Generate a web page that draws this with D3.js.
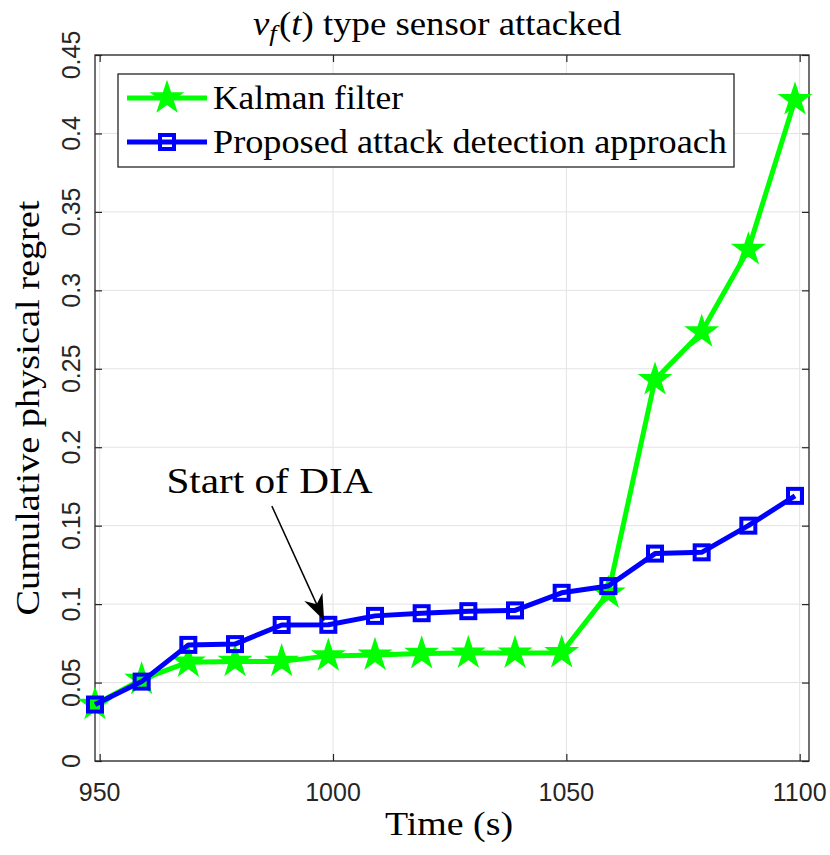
<!DOCTYPE html>
<html><head><meta charset="utf-8">
<script src="https://cdn.jsdelivr.net/npm/d3@7"></script>
<style>body{margin:0;background:#fff}</style>
</head><body><svg id="c" width="830" height="855"></svg>
<script>
// ---- data ----
const times    = [949, 959, 969, 979, 989, 999, 1009, 1019, 1029, 1039, 1049, 1059, 1069, 1079, 1089, 1099];
const kalman   = [0.036, 0.052, 0.063, 0.0635, 0.0635, 0.067, 0.0675, 0.0685, 0.0688, 0.0688, 0.069, 0.107, 0.243, 0.2735, 0.326, 0.4215];
const proposed = [0.036, 0.0506, 0.074, 0.0745, 0.0867, 0.0868, 0.0925, 0.0942, 0.0955, 0.096, 0.1072, 0.1115, 0.1322, 0.133, 0.150, 0.169];
const seriesNames = ["Kalman filter", "Proposed attack detection approach"];
const xTicks = [950, 1000, 1050, 1100];
const yTicks = [0, 0.05, 0.1, 0.15, 0.2, 0.25, 0.3, 0.35, 0.4, 0.45];
const xDomain = [949, 1102];
const yDomain = [0, 0.45];
const annotationText = "Start of DIA";
const annotationTextPos = [964.3, 0.171];
const annotationArrow = [[986.9, 0.1625], [998.1, 0.0895]];
const titleParts = ["v", "f", "(", "t", ")", " type sensor attacked"];
const xLabel = "Time (s)";
const yLabel = "Cumulative physical regret";

// ---- layout ----
const L = 95, R = 809, T = 55, B = 761;
const svg = d3.select("#c");
const x = d3.scaleLinear().domain(xDomain).range([L, R]);
const y = d3.scaleLinear().domain(yDomain).range([B, T]);
const axisCol = "#262626";
const serif = "'Liberation Serif', 'DejaVu Serif', serif";
const sans = "'Liberation Sans', Arial, sans-serif";

// grid
const grid = svg.append("g").attr("stroke", "#e3e3e3").attr("stroke-width", 1);
grid.selectAll(".gx").data(xTicks).join("line")
  .attr("x1", d => x(d)).attr("x2", d => x(d)).attr("y1", T).attr("y2", B);
grid.selectAll(".gy").data(yTicks).join("line")
  .attr("x1", L).attr("x2", R).attr("y1", d => y(d)).attr("y2", d => y(d));

// axes with inward ticks on all sides
const tl = 7;
svg.append("g").attr("transform", `translate(0,${B})`)
  .call(d3.axisBottom(x).tickValues(xTicks).tickSize(-tl).tickFormat(""))
  .call(g => g.select(".domain").remove());
svg.append("g").attr("transform", `translate(0,${T})`)
  .call(d3.axisTop(x).tickValues(xTicks).tickSize(-tl).tickFormat(""))
  .call(g => g.select(".domain").remove());
svg.append("g").attr("transform", `translate(${L},0)`)
  .call(d3.axisLeft(y).tickValues(yTicks).tickSize(-tl).tickFormat(""))
  .call(g => g.select(".domain").remove());
svg.append("g").attr("transform", `translate(${R},0)`)
  .call(d3.axisRight(y).tickValues(yTicks).tickSize(-tl).tickFormat(""))
  .call(g => g.select(".domain").remove());
svg.selectAll(".tick line").attr("stroke", axisCol).attr("stroke-width", 1.2);
svg.append("rect").attr("x", L).attr("y", T).attr("width", R - L).attr("height", B - T)
  .attr("fill", "none").attr("stroke", axisCol).attr("stroke-width", 1.3);

// tick labels
svg.append("g").selectAll("text").data(xTicks).join("text")
  .attr("x", d => x(d)).attr("y", 801).attr("text-anchor", "middle")
  .attr("font-family", sans).attr("font-size", 25).attr("fill", axisCol)
  .text(d => d);
svg.append("g").selectAll("text").data(yTicks).join("text")
  .attr("transform", d => `translate(80,${y(d)}) rotate(-90)`).attr("text-anchor", "middle")
  .attr("font-family", sans).attr("font-size", 25).attr("fill", axisCol)
  .text(d => String(+d.toFixed(2)));

// series
const line = d3.line().x(d => x(d[0])).y(d => y(d[1]));
const starPath = d3.symbol().type(d3.symbolStar).size(285)();
const kData = times.map((t, i) => [t, kalman[i]]);
const pData = times.map((t, i) => [t, proposed[i]]);

svg.append("path").datum(kData).attr("d", line).attr("fill", "none")
  .attr("stroke", "#00ff00").attr("stroke-width", 5).attr("stroke-linejoin", "round");
svg.append("g").selectAll("path").data(kData).join("path")
  .attr("transform", d => `translate(${x(d[0])},${y(d[1])})`).attr("d", starPath)
  .attr("fill", "#00ff00").attr("stroke", "#00ff00").attr("stroke-width", 1.5);

svg.append("path").datum(pData).attr("d", line).attr("fill", "none")
  .attr("stroke", "#0000ff").attr("stroke-width", 5).attr("stroke-linejoin", "round");
const sq = 14;
svg.append("g").selectAll("rect").data(pData).join("rect")
  .attr("x", d => x(d[0]) - sq / 2).attr("y", d => y(d[1]) - sq / 2)
  .attr("width", sq).attr("height", sq)
  .attr("fill", "none").attr("stroke", "#0000ff").attr("stroke-width", 4);

// annotation
const defs = svg.append("defs");
defs.append("marker").attr("id", "ah").attr("viewBox", "0 0 26 20").attr("refX", 26).attr("refY", 10)
  .attr("markerWidth", 26).attr("markerHeight", 20).attr("markerUnits", "userSpaceOnUse").attr("orient", "auto")
  .append("path").attr("d", "M0,0 L26,10 L0,20 L8,10 Z").attr("fill", "#000");
svg.append("line")
  .attr("x1", x(annotationArrow[0][0])).attr("y1", y(annotationArrow[0][1]))
  .attr("x2", x(annotationArrow[1][0])).attr("y2", y(annotationArrow[1][1]))
  .attr("stroke", "#000").attr("stroke-width", 1.5).attr("marker-end", "url(#ah)");
svg.append("text").attr("x", x(annotationTextPos[0])).attr("y", y(annotationTextPos[1]))
  .attr("font-family", serif).attr("font-size", 35).attr("fill", "#000")
  .attr("textLength", 206).attr("lengthAdjust", "spacingAndGlyphs")
  .text(annotationText);

// legend
const lg = svg.append("g");
lg.append("rect").attr("x", 118).attr("y", 74).attr("width", 616).attr("height", 93)
  .attr("fill", "#fff").attr("stroke", axisCol).attr("stroke-width", 1.3);
const rows = [98, 142];
const widths = [190, 514];
seriesNames.forEach((name, i) => {
  const col = i === 0 ? "#00ff00" : "#0000ff";
  lg.append("line").attr("x1", 127).attr("x2", 207).attr("y1", rows[i]).attr("y2", rows[i])
    .attr("stroke", col).attr("stroke-width", 5);
  if (i === 0) {
    lg.append("path").attr("transform", `translate(167,${rows[i]})`).attr("d", starPath)
      .attr("fill", col).attr("stroke", col).attr("stroke-width", 1.5);
  } else {
    lg.append("rect").attr("x", 167 - sq / 2).attr("y", rows[i] - sq / 2).attr("width", sq).attr("height", sq)
      .attr("fill", "none").attr("stroke", col).attr("stroke-width", 4);
  }
  lg.append("text").attr("x", 213).attr("y", rows[i] + 11)
    .attr("font-family", serif).attr("font-size", 34).attr("fill", "#000")
    .attr("textLength", widths[i]).attr("lengthAdjust", "spacingAndGlyphs")
    .text(name);
});

// title
const tt = svg.append("text").attr("x", 253).attr("y", 35)
  .attr("font-family", serif).attr("font-size", 33).attr("fill", "#000");
tt.append("tspan").attr("font-style", "italic").text(titleParts[0]);
tt.append("tspan").attr("font-style", "italic").attr("font-size", 24).attr("dy", 6).text(titleParts[1]);
tt.append("tspan").attr("dy", -6).attr("dx", 2).text(titleParts[2]);
tt.append("tspan").attr("font-style", "italic").text(titleParts[3]);
tt.append("tspan").text(titleParts[4]);
tt.append("tspan").text(titleParts[5]);
{
  const w = tt.node().getBBox().width;
  const s = 369 / w;
  tt.attr("transform", `translate(253,0) scale(${s},1) translate(-253,0)`);
}

// axis labels
svg.append("text").attr("x", 385).attr("y", 835)
  .attr("font-family", serif).attr("font-size", 33).attr("fill", "#000")
  .attr("textLength", 128).attr("lengthAdjust", "spacingAndGlyphs")
  .text(xLabel);
svg.append("text").attr("transform", `translate(39,${(T + B) / 2}) rotate(-90)`)
  .attr("text-anchor", "middle")
  .attr("font-family", serif).attr("font-size", 33).attr("fill", "#000")
  .attr("textLength", 415).attr("lengthAdjust", "spacingAndGlyphs")
  .text(yLabel);
</script></body></html>
